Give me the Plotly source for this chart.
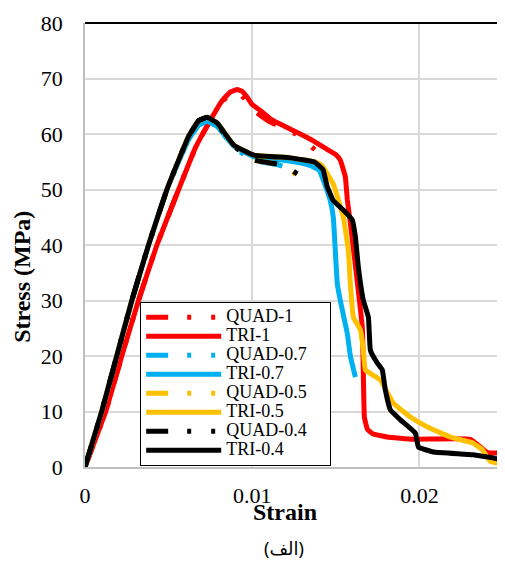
import plotly.graph_objects as go

# ---------------- data ----------------
quad1_strain = [0, 0.00124, 0.0022, 0.0032, 0.0043, 0.0056, 0.0066, 0.0075, 0.0082, 0.0087,
                0.0091, 0.0095, 0.0102, 0.0110, 0.0118, 0.0126, 0.0133, 0.0139]
quad1_stress = [0, 10, 20, 30, 40, 50, 57.5, 62.5, 65.8, 67.3,
                67.7, 66.5, 64, 62.3, 61.2, 60, 58.3, 56.8]

tri1_strain = [0, 0.00124, 0.0022, 0.0032, 0.0043, 0.0056, 0.0066, 0.0075, 0.0082, 0.0087,
               0.0091, 0.0094, 0.0097, 0.0100, 0.0105, 0.0112, 0.0120, 0.0130, 0.0138, 0.01455,
               0.0150, 0.01527, 0.01557, 0.01569, 0.01587, 0.0163, 0.01659, 0.01671, 0.01689,
               0.0172, 0.01808, 0.01964, 0.02305, 0.02365, 0.02407, 0.0250]
tri1_stress = [0, 10, 20, 30, 40, 50, 57.5, 62.5, 66, 67.6,
               68, 67.7, 66.6, 65.3, 64.2, 62.5, 61.3, 59.8, 58.5, 57.1,
               56.3, 55.3, 52.3, 48.1, 44, 33, 25, 9, 6.8,
               6.0, 5.4, 5.0, 5.0, 3.6, 2.6, 2.5]

quad07_strain = [0, 0.0010, 0.0019, 0.0028, 0.0038, 0.0049, 0.0056, 0.0062, 0.0068, 0.0073,
                 0.0079, 0.0089, 0.0101, 0.0115, 0.0122, 0.0127]
quad07_stress = [0, 10, 20, 30, 40, 50, 55, 59, 61.6, 62.3,
                 61.4, 57.6, 55.2, 54.5, 53.7, 52.5]

tri07_strain = [0, 0.0010, 0.0019, 0.0028, 0.0038, 0.0049, 0.0056, 0.0062, 0.0068, 0.0073,
                0.0079, 0.0089, 0.0101, 0.0115, 0.0125, 0.0135, 0.0140, 0.01425, 0.01467,
                0.01485, 0.01497, 0.01509, 0.01527, 0.01569, 0.01587, 0.01617]
tri07_stress = [0, 10, 20, 30, 40, 50, 55, 59, 61.6, 62.3,
                61.4, 57.8, 55.9, 55.4, 55, 54.3, 53.5, 51.7, 48,
                45, 39, 33, 30, 24, 20, 16.2]

quad05_strain = [0, 0.0010, 0.0019, 0.0028, 0.0038, 0.0049, 0.0056, 0.0062, 0.0068, 0.0073,
                 0.0079, 0.0089, 0.0101, 0.0115, 0.0122, 0.0126]
quad05_stress = [0, 10, 20, 30, 40, 50, 55.3, 59.6, 62.4, 63,
                 62, 57.9, 55.3, 54.6, 53.8, 52.6]

tri05_strain = [0, 0.0010, 0.0019, 0.0028, 0.0038, 0.0049, 0.0056, 0.0062, 0.0068, 0.0073,
                0.0079, 0.0089, 0.0101, 0.0123, 0.0137, 0.0141, 0.01425, 0.01485, 0.01545,
                0.01575, 0.01587, 0.01605, 0.01647, 0.01665, 0.01677, 0.01766, 0.01844,
                0.01946, 0.02048, 0.02186, 0.02323, 0.02377, 0.02425, 0.02503]
tri05_stress = [0, 10, 20, 30, 40, 50, 55.3, 59.6, 62.4, 63,
                62, 58, 56.2, 55.7, 55, 54.5, 54, 51, 45,
                39, 33, 27, 24.7, 21, 17.5, 15.7, 11.5,
                9, 7.2, 5.4, 4.3, 3.1, 1.0, 0.5]

quad04_strain = [0, 0.0010, 0.0019, 0.0028, 0.0038, 0.0049, 0.0056, 0.0062, 0.0068, 0.0073,
                 0.0079, 0.0089, 0.0101, 0.0115, 0.0122, 0.0127]
quad04_stress = [0, 10, 20, 30, 40, 50, 55.3, 59.6, 62.4, 63,
                 61.8, 57.8, 55.3, 54.6, 53.8, 52.8]

tri04_strain = [0, 0.0010, 0.0019, 0.0028, 0.0038, 0.0049, 0.0056, 0.0062, 0.0068, 0.0073,
                0.0079, 0.0089, 0.0101, 0.0123, 0.0137, 0.0141, 0.01425, 0.01449, 0.01485,
                0.01545, 0.01599, 0.01617, 0.01635, 0.01665, 0.01695, 0.01707, 0.01749,
                0.01778, 0.01796, 0.01826, 0.01886, 0.01976, 0.01994, 0.02084, 0.02323, 0.02503]
tri04_stress = [0, 10, 20, 30, 40, 50, 55.3, 59.6, 62.4, 63,
                62, 58, 56.2, 55.7, 55, 54, 53.5, 50.5, 48,
                46.3, 44.5, 41.5, 36, 30, 27, 21, 18.7,
                17.5, 13.9, 10.3, 8.5, 6.1, 3.6, 2.7, 2.2, 1.3]

x_ticks = [0, 0.01, 0.02]
x_tick_labels = ["0", "0.01", "0.02"]
y_ticks = [0, 10, 20, 30, 40, 50, 60, 70, 80]

series = [
    ("QUAD-1", quad1_strain, quad1_stress, "#FF0000", True),
    ("TRI-1", tri1_strain, tri1_stress, "#FF0000", False),
    ("QUAD-0.7", quad07_strain, quad07_stress, "#00B0F0", True),
    ("TRI-0.7", tri07_strain, tri07_stress, "#00B0F0", False),
    ("QUAD-0.5", quad05_strain, quad05_stress, "#FFC000", True),
    ("TRI-0.5", tri05_strain, tri05_stress, "#FFC000", False),
    ("QUAD-0.4", quad04_strain, quad04_stress, "#000000", True),
    ("TRI-0.4", tri04_strain, tri04_stress, "#000000", False),
]

DASH = "22px,19px,4px,20px,4px,19px"
SERIF = "Liberation Serif, Times New Roman, serif"
PAD = "\u00a0" * 4

fig = go.Figure()
for name, xs, ys, color, dashed in series:
    fig.add_trace(go.Scatter(
        x=xs, y=ys, mode="lines",
        name='<span style="font-size:18px">' + name + PAD + '</span>',
        line=dict(color=color, width=5, dash=DASH if dashed else "solid",
                  shape="spline", smoothing=0.3),
    ))

# the page body has an 8px margin: the figure is sized/offset to compensate
fig.update_layout(
    width=497, height=555,
    margin=dict(l=77, r=2, t=15, b=96, autoexpand=False),
    paper_bgcolor="white", plot_bgcolor="white",
    font=dict(family=SERIF, color="black", size=22),
    showlegend=True,
    legend=dict(
        x=0.132, y=0.372, xanchor="left", yanchor="top",
        bgcolor="white", bordercolor="black", borderwidth=1,
        font=dict(family=SERIF, size=12, color="black"),
        itemwidth=75, tracegroupgap=0,
    ),
    xaxis=dict(
        range=[0, 0.025], tickvals=x_ticks, ticktext=x_tick_labels,
        showgrid=True, gridcolor="#D9D9D9", gridwidth=1.5,
        showline=True, linecolor="#BFBFBF", linewidth=1.5,
        ticks="", zeroline=False, ticklabelstandoff=8, automargin=False,
        tickfont=dict(family=SERIF, size=22),
    ),
    yaxis=dict(
        range=[0, 80], tickvals=y_ticks,
        showgrid=True, gridcolor="#D9D9D9", gridwidth=1.5,
        showline=True, linecolor="#BFBFBF", linewidth=1.5,
        ticks="", zeroline=False, ticklabelstandoff=16, automargin=False,
        tickfont=dict(family=SERIF, size=22),
    ),
    shapes=[
        dict(type="line", xref="paper", yref="paper", x0=0, x1=1, y0=1, y1=1,
             line=dict(color="black", width=2)),
        dict(type="line", xref="paper", yref="paper", x0=1, x1=1, y0=0, y1=1,
             line=dict(color="black", width=2)),
    ],
    annotations=[
        dict(text="<b>Strain</b>", xref="paper", yref="paper", x=0.478, y=-0.101,
             xanchor="center", yanchor="middle", showarrow=False,
             font=dict(family=SERIF, size=24)),
        dict(text="<b>Stress (MPa)</b>", xref="paper", yref="paper", x=-0.151, y=0.428,
             xanchor="center", yanchor="middle", showarrow=False, textangle=-90,
             font=dict(family=SERIF, size=24)),
        dict(text="(الف)", xref="paper", yref="paper", x=0.475, y=-0.182,
             xanchor="center", yanchor="middle", showarrow=False,
             font=dict(family="Noto Sans, DejaVu Sans, sans-serif", size=18)),
    ],
)

fig.write_html("out.html")
